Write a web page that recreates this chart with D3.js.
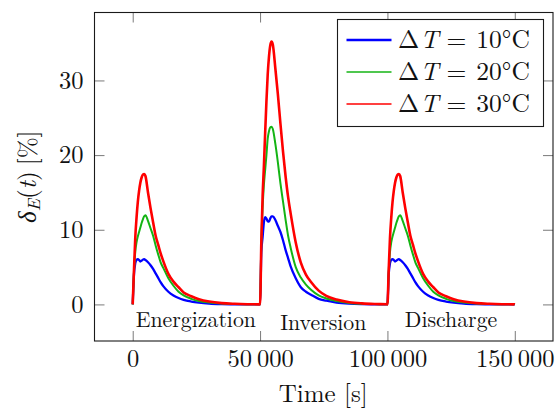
<!DOCTYPE html>
<html>
<head>
<meta charset="utf-8">
<script src="https://cdn.jsdelivr.net/npm/d3@7"></script>
<style>
  html, body { margin: 0; padding: 0; background: #fff; }
  svg { display: block; }
  text { font-family: "Latin Modern Roman", "Liberation Serif", serif; fill: #111; }
</style>
</head>
<body>
<svg id="chart" width="557" height="409"></svg>
<script>
// Time samples inside each stage (seconds after the stage starts)
const sampleOffsetSec = [0, 500, 1000, 1500, 2000, 2500, 3000, 3500, 4000, 4500, 5000,
  6000, 7000, 8000, 9000, 10000, 11000, 12000, 14000, 16000, 18000, 20000,
  23000, 26000, 30000, 35000, 40000, 45000, 49900];
const stageStartSec = [0, 50000, 100000];
const stageNames = ["Energization", "Inversion", "Discharge"];
const endTimeSec = 150000;

// delta_E(t) in %, one row per stage, for each temperature step
const deltaT10 = [
  0, 4.0, 5.5, 5.95, 6.05, 5.95, 5.75, 5.85, 6.0, 6.05, 5.95,
  5.65, 5.25, 4.75, 4.15, 3.55, 2.95, 2.45, 1.7, 1.2, 0.85, 0.6,
  0.38, 0.24, 0.12, 0.05, 0.02, 0.01, 0,
  0, 7.0, 9.0, 11.0, 11.7, 11.5, 11.15, 11.1, 11.5, 11.8, 11.8,
  11.3, 10.5, 9.7, 8.6, 7.3, 6.2, 5.1, 3.5, 2.3, 1.7, 1.3,
  0.75, 0.5, 0.25, 0.1, 0.04, 0.02, 0.01,
  0, 4.0, 5.5, 5.95, 6.05, 5.95, 5.75, 5.85, 6.0, 6.05, 5.95,
  5.65, 5.25, 4.75, 4.15, 3.55, 2.95, 2.45, 1.7, 1.2, 0.85, 0.6,
  0.38, 0.24, 0.12, 0.05, 0.02, 0.01, 0,
  0
];
const deltaT20 = [
  0, 4.5, 7.0, 8.3, 9.1, 9.7, 10.3, 10.9, 11.4, 11.8, 11.95,
  11.2, 10.2, 9.2, 7.9, 6.7, 5.6, 4.9, 3.5, 2.5, 1.7, 1.2,
  0.75, 0.45, 0.25, 0.11, 0.05, 0.02, 0.01,
  0, 8.5, 13.0, 16.0, 18.0, 20.0, 22.2, 23.2, 23.7, 23.8, 23.5,
  21.5, 19.0, 16.2, 13.8, 11.4, 9.2, 7.6, 5.0, 3.6, 2.65, 1.95,
  1.2, 0.8, 0.45, 0.2, 0.09, 0.04, 0.01,
  0, 4.5, 7.0, 8.3, 9.1, 9.7, 10.3, 10.9, 11.4, 11.8, 11.95,
  11.2, 10.2, 9.2, 7.9, 6.7, 5.6, 4.9, 3.5, 2.5, 1.7, 1.2,
  0.75, 0.45, 0.25, 0.11, 0.05, 0.02, 0.01,
  0
];
const deltaT30 = [
  0, 4.6, 8.9, 11.6, 13.7, 15.2, 16.3, 17.0, 17.4, 17.45, 17.2,
  15.0, 12.9, 11.0, 9.2, 8.0, 6.8, 5.8, 4.1, 3.05, 2.3, 1.6,
  1.1, 0.7, 0.38, 0.17, 0.08, 0.03, 0.01,
  0, 8.5, 14.5, 18.5, 23.0, 27.2, 30.8, 33.2, 34.7, 35.2, 34.8,
  31.6, 28.1, 24.2, 20.5, 17.2, 14.4, 12.2, 8.3, 5.6, 4.0, 3.0,
  1.85, 1.15, 0.65, 0.3, 0.14, 0.06, 0.02,
  0, 4.6, 8.9, 11.6, 13.7, 15.2, 16.3, 17.0, 17.4, 17.45, 17.2,
  15.0, 12.9, 11.0, 9.2, 8.0, 6.8, 5.8, 4.1, 3.05, 2.3, 1.6,
  1.1, 0.7, 0.38, 0.17, 0.08, 0.03, 0.01,
  0
];

const xTicks = [0, 50000, 100000, 150000];
const yTicks = [0, 10, 20, 30];
const seriesLabels = ["10°C", "20°C", "30°C"];
const seriesColors = ["#0000ff", "#14b414", "#ff0000"];

// time axis shared by all series
const timeSec = [];
stageStartSec.forEach(s => sampleOffsetSec.forEach(o => timeSec.push(s + o)));
timeSec.push(endTimeSec);

const series = [deltaT10, deltaT20, deltaT30].map((vals, i) => ({
  label: seriesLabels[i],
  color: seriesColors[i],
  points: timeSec.map((t, j) => ({ t, v: vals[j] }))
}));

const svg = d3.select("#chart");
const plot = { left: 94.5, right: 553, top: 12.5, bottom: 341 };

const x = d3.scaleLinear().domain([-15000, 165000]).range([plot.left, plot.right]);
const y = d3.scaleLinear().domain([-4.9, 39.1]).range([plot.bottom, plot.top]);

const fmt = d => d3.format(",")(d).replace(/,/g, "\u2009");

svg.append("defs").append("clipPath").attr("id", "plotClip")
  .append("rect")
  .attr("x", plot.left).attr("y", plot.top)
  .attr("width", plot.right - plot.left).attr("height", plot.bottom - plot.top);

function styleAxis(g, showLabels) {
  g.attr("font-family", null);
  g.select(".domain").remove();
  g.selectAll(".tick line").attr("stroke", "#7a7a7a").attr("stroke-width", 1);
  if (!showLabels) g.selectAll(".tick text").remove();
  else g.selectAll(".tick text").attr("font-size", 24.5).attr("fill", "#111");
}

svg.append("g").attr("transform", `translate(0,${plot.bottom})`)
  .call(d3.axisBottom(x).tickValues(xTicks).tickSize(-10).tickPadding(9).tickFormat(fmt))
  .call(g => styleAxis(g, true));
svg.append("g").attr("transform", `translate(0,${plot.top})`)
  .call(d3.axisTop(x).tickValues(xTicks).tickSize(-10))
  .call(g => styleAxis(g, false));
svg.append("g").attr("transform", `translate(${plot.left},0)`)
  .call(d3.axisLeft(y).tickValues(yTicks).tickSize(-10).tickPadding(11).tickFormat(d3.format("d")))
  .call(g => styleAxis(g, true));
svg.append("g").attr("transform", `translate(${plot.right},0)`)
  .call(d3.axisRight(y).tickValues(yTicks).tickSize(-10))
  .call(g => styleAxis(g, false));

// curves
const line = d3.line().x(d => x(d.t)).y(d => y(d.v)).curve(d3.curveMonotoneX);
const curveWidths = [2.3, 2.0, 2.6];
svg.append("g").attr("clip-path", "url(#plotClip)")
  .selectAll("path").data(series).join("path")
  .attr("d", d => line(d.points))
  .attr("fill", "none")
  .attr("stroke", d => d.color)
  .attr("stroke-width", (d, i) => curveWidths[i])
  .attr("stroke-linejoin", "round");

// stage names under each pulse
const stageBaseline = [326.5, 330, 326.5];
const stageCenter = [195.8, 323.3, 451];
svg.append("g").selectAll("text").data(stageNames).join("text")
  .attr("x", (d, i) => stageCenter[i])
  .attr("y", (d, i) => stageBaseline[i])
  .attr("text-anchor", "middle")
  .attr("font-size", 21.8)
  .text(d => d);

// frame
svg.append("rect")
  .attr("x", plot.left).attr("y", plot.top)
  .attr("width", plot.right - plot.left).attr("height", plot.bottom - plot.top)
  .attr("fill", "none").attr("stroke", "#1a1a1a").attr("stroke-width", 1.1);

// axis titles
svg.append("text")
  .attr("x", 323.3).attr("y", 402)
  .attr("text-anchor", "middle").attr("font-size", 25)
  .text("Time [s]");

const yl = svg.append("text")
  .attr("transform", `translate(36,${(plot.top + plot.bottom) / 2}) rotate(-90)`)
  .attr("text-anchor", "middle").attr("font-size", 25);
yl.append("tspan").attr("font-style", "italic").text("δ");
yl.append("tspan").attr("font-style", "italic").attr("font-size", 18).attr("dy", 4).text("E");
yl.append("tspan").attr("dy", -4).text("(");
yl.append("tspan").attr("font-style", "italic").text("t");
yl.append("tspan").text(")");
yl.append("tspan").attr("dx", 6).text("[%]");

// legend
const legend = svg.append("g");
legend.append("rect")
  .attr("x", 337.5).attr("y", 19.5).attr("width", 206).attr("height", 107)
  .attr("fill", "#fff").attr("stroke", "#1a1a1a").attr("stroke-width", 1.1);
const legendWidths = [2.6, 1.4, 1.4];
const rowY = [40, 72, 104];
series.forEach((s, i) => {
  legend.append("line")
    .attr("x1", 346.5).attr("x2", 391.5).attr("y1", rowY[i]).attr("y2", rowY[i])
    .attr("stroke", s.color).attr("stroke-width", legendWidths[i]);
  const t = legend.append("text")
    .attr("x", 398).attr("y", rowY[i] + 8.3).attr("font-size", 25.5);
  t.append("tspan").text("Δ");
  t.append("tspan").attr("font-style", "italic").attr("dx", 1).text("T");
  t.append("tspan").attr("dx", 8).text("=");
  t.append("tspan").attr("dx", 10).text(s.label);
});
</script>
</body>
</html>
